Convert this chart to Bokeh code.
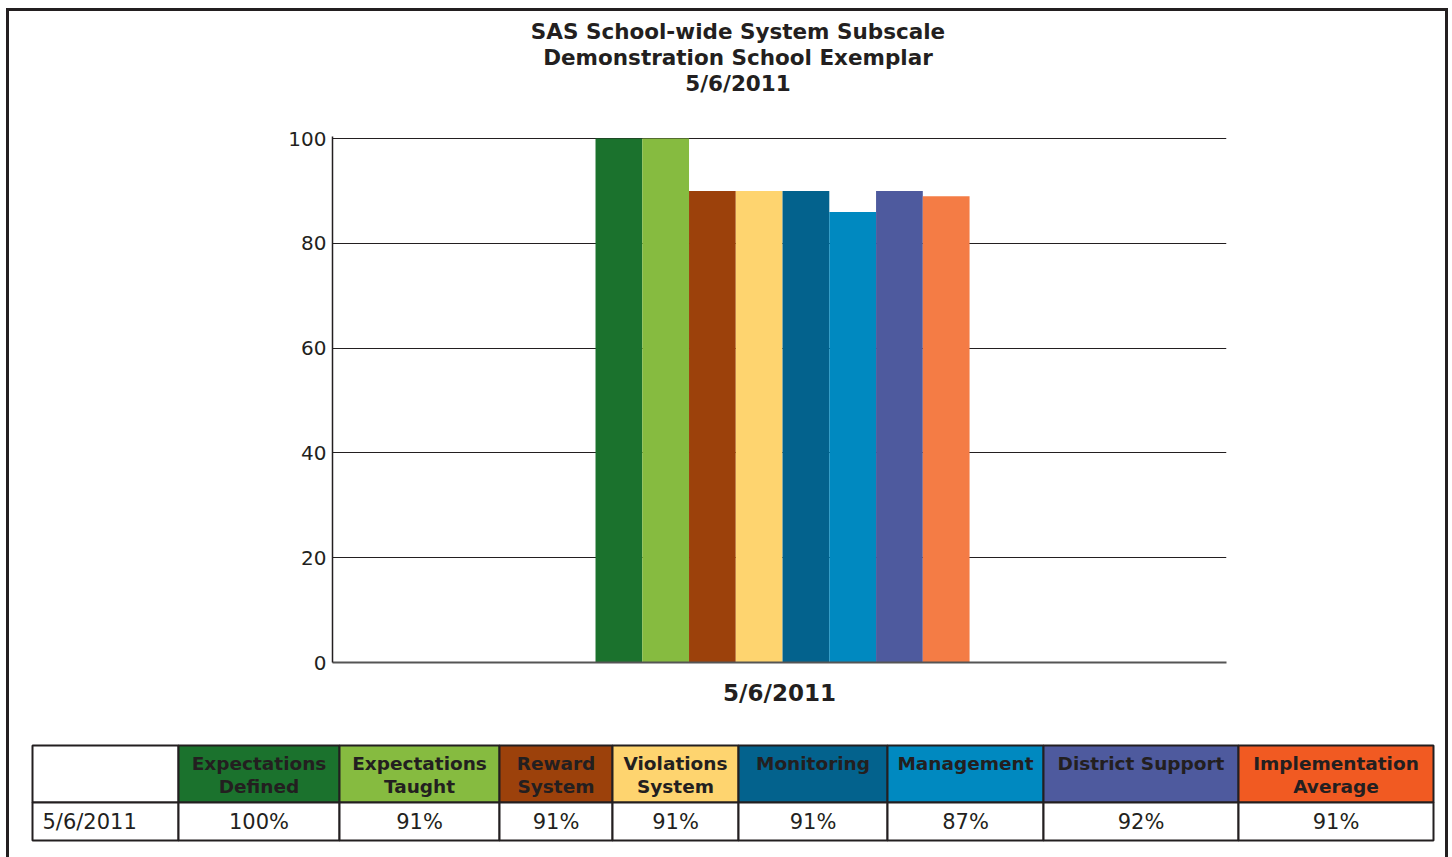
from bokeh.plotting import figure
from bokeh.models import Range1d, FactorRange, ColumnDataSource, FixedTicker
from bokeh.layouts import column
from bokeh.transform import dodge
from bokeh.core.properties import value
from bokeh.embed import file_html
from bokeh.resources import INLINE

# ---------------- data ----------------
title_lines = ["SAS School-wide System Subscale", "Demonstration School Exemplar", "5/6/2011"]
date_label = "5/6/2011"
subscales = ["Expectations Defined", "Expectations Taught", "Reward System",
             "Violations System", "Monitoring", "Management",
             "District Support", "Implementation Average"]
header_labels = ["Expectations\nDefined", "Expectations\nTaught", "Reward\nSystem",
                 "Violations\nSystem", "Monitoring", "Management",
                 "District Support", "Implementation\nAverage"]
bar_values = [100, 100, 90, 90, 90, 86, 90, 89]      # heights as drawn in the chart
table_values = [100, 91, 91, 91, 91, 87, 92, 91]     # values printed in the table
bar_colors = ["#1b722d", "#86bb40", "#9c410b", "#fed46f",
              "#03628d", "#0089c0", "#4e5a9e", "#f47c45"]
header_colors = ["#1b722d", "#86bb40", "#9c410b", "#fed46f",
                 "#03628d", "#0089c0", "#4e5a9e", "#f15a22"]
y_ticks = [0, 20, 40, 60, 80, 100]

INK = "#231f20"
FONT = "DejaVu Sans"
W = 1436


def blank_fig(height, y_top):
    f = figure(x_range=Range1d(0, W), y_range=Range1d(y_top, 0), width=W, height=height,
               min_border=0, output_backend="svg", toolbar_location=None,
               outline_line_color=None, background_fill_color="white",
               border_fill_color="white")
    f.axis.visible = False
    f.grid.visible = False
    f.frame_align = False
    return f


# ---------------- title ----------------
tf = blank_fig(109, 109)
tf.text(x=[728.5] * 3, y=[20, 46, 72], text=title_lines,
        text_font=value(FONT), text_font_size="21.5px", text_font_style="bold",
        text_color=INK, text_align="center", text_baseline="middle")

# ---------------- chart ----------------
p = figure(x_range=FactorRange(date_label), y_range=Range1d(0, 100.4),
           width=W, height=615, output_backend="svg", toolbar_location=None,
           min_border_left=323, min_border_right=219, min_border_top=16,
           min_border_bottom=73, outline_line_color=None,
           background_fill_color="white", border_fill_color="white")
p.frame_align = False
p.x_range.range_padding = 0

bw = 0.0523
shift = 0.0034
for i, (name, v, c) in enumerate(zip(subscales, bar_values, bar_colors)):
    src = ColumnDataSource(dict(x=[date_label], top=[v], name=[name]))
    p.vbar(x=dodge("x", (i - 3.5) * bw + shift, range=p.x_range), top="top",
           width=bw, source=src, fill_color=c, line_color=None)

p.yaxis.ticker = FixedTicker(ticks=y_ticks)
p.yaxis.major_tick_line_color = None
p.yaxis.minor_tick_line_color = None
p.yaxis.axis_line_color = INK
p.yaxis.axis_line_width = 1.5
p.yaxis.major_label_text_font = FONT
p.yaxis.major_label_text_font_size = "20px"
p.yaxis.major_label_text_color = INK
p.yaxis.major_label_standoff = 0

p.xaxis.major_tick_line_color = None
p.xaxis.minor_tick_line_color = None
p.xaxis.axis_line_color = "#555555"
p.xaxis.axis_line_width = 2
p.xaxis.major_label_text_font = FONT
p.xaxis.major_label_text_font_size = "23px"
p.xaxis.major_label_text_font_style = "bold"
p.xaxis.major_label_text_color = INK
p.xaxis.major_label_standoff = 11

p.xgrid.grid_line_color = None
p.ygrid.ticker = FixedTicker(ticks=y_ticks)
p.ygrid.grid_line_color = INK
p.ygrid.grid_line_width = 1

# ---------------- table ----------------
t = blank_fig(122, 122)

col_edges = [23, 169, 330, 490, 603, 729, 878, 1034, 1229, 1424]
head_top, head_bot, row_bot = 10, 67, 105
lefts = col_edges[:-1]
rights = col_edges[1:]
centers = [(a + b) / 2 for a, b in zip(lefts, rights)]

t.quad(left=lefts, right=rights, top=[head_top] * 9, bottom=[head_bot] * 9,
       fill_color=["white"] + header_colors, line_color=INK, line_width=2)
t.quad(left=lefts, right=rights, top=[head_bot] * 9, bottom=[row_bot] * 9,
       fill_color="white", line_color=INK, line_width=2)

t.text(x=centers[1:], y=[head_top + 7] * 8, text=header_labels,
       text_font=value(FONT), text_font_size="18.5px", text_font_style="bold",
       text_color=INK, text_align="center", text_baseline="top",
       text_line_height=1.1)
t.text(x=[lefts[0] + 10], y=[(head_bot + row_bot) / 2], text=[date_label],
       text_font=value(FONT), text_font_size="21px", text_color=INK,
       text_align="left", text_baseline="middle")
t.text(x=centers[1:], y=[(head_bot + row_bot) / 2] * 8,
       text=[f"{v}%" for v in table_values],
       text_font=value(FONT), text_font_size="21px", text_color=INK,
       text_align="center", text_baseline="middle")

border = f"3px solid {INK}"
layout = column(tf, p, t, styles={"border-top": border, "border-left": border,
                                  "border-right": border, "margin-left": "6px",
                                  "margin-top": "8px", "background-color": "white"})

open("out.html", "w").write(file_html(layout, INLINE))
